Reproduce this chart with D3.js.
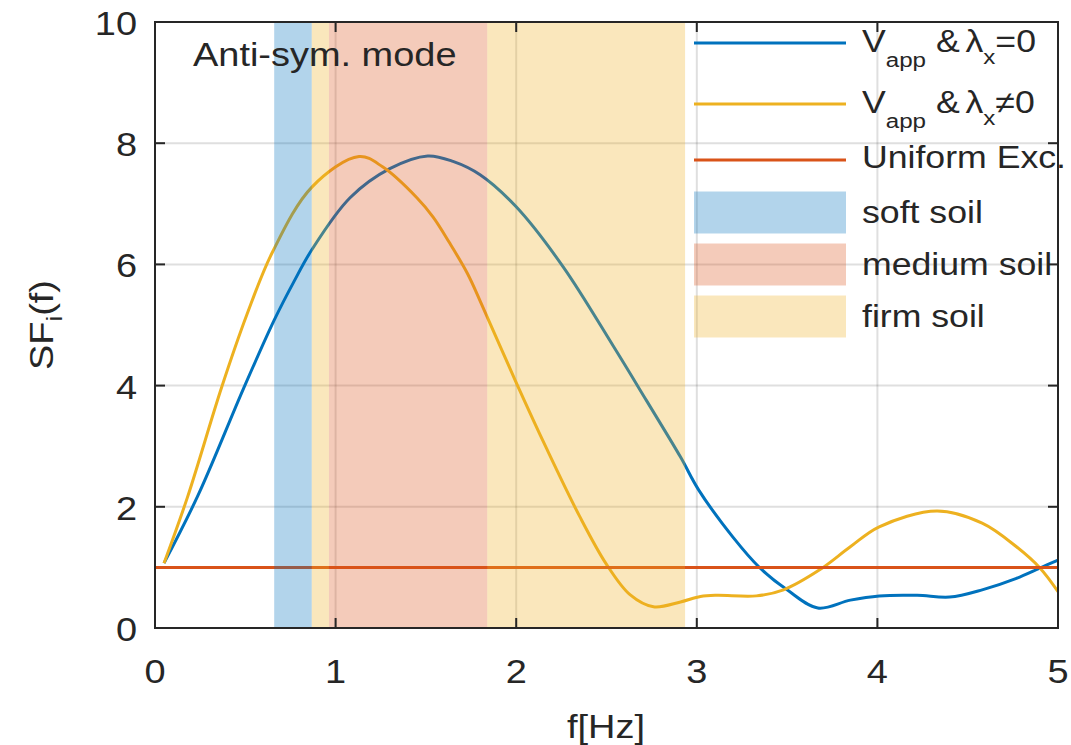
<!DOCTYPE html>
<html><head><meta charset="utf-8">
<script src="https://cdn.jsdelivr.net/npm/d3@7"></script>
<style>
body{margin:0;background:#fff;}
svg{display:block;}
text{font-family:"Liberation Sans",Arial,Helvetica,sans-serif;fill:#262626;}
</style>
</head><body>
<svg id="chart" width="1071" height="745"></svg>
<script>
// ---------- data ----------
const blueF = [0.05,0.24,0.49,0.66,0.77,0.87,1.08,1.30,1.51,1.65,1.80,2.00,2.26,2.54,2.72,2.91,3.01,3.20,3.35,3.50,3.67,3.85,4.01,4.22,4.40,4.58,4.77,4.90,5.00];
const blueV = [1.07,2.20,3.95,5.08,5.72,6.25,7.10,7.58,7.79,7.70,7.48,6.95,5.96,4.64,3.76,2.82,2.28,1.50,0.99,0.63,0.33,0.46,0.53,0.54,0.51,0.63,0.82,0.99,1.12];
const yellowF = [0.05,0.18,0.37,0.51,0.65,0.87,1.13,1.26,1.45,1.54,1.63,1.73,1.80,2.00,2.17,2.35,2.50,2.63,2.76,2.91,3.02,3.11,3.33,3.48,3.68,3.85,4.01,4.33,4.58,4.77,4.90,5.00];
const yellowV = [1.07,2.16,3.98,5.18,6.20,7.28,7.78,7.61,7.10,6.78,6.36,5.85,5.40,4.05,2.95,1.85,1.05,0.55,0.35,0.43,0.52,0.54,0.53,0.63,0.96,1.34,1.67,1.93,1.73,1.34,0.99,0.60];
const uniformF = [0, 5];
const uniformV = [1, 1];
const soilNames = ["soft soil", "medium soil", "firm soil"];
const soilColors = ["#0072BD", "#D95319", "#EDB120"];
const bandStart = [0.66, 0.963, 0.868, 1.84];
const bandEnd   = [0.868, 1.84, 0.963, 2.935];
const bandSoil  = [0, 1, 2, 2];
const xTicks = [0, 1, 2, 3, 4, 5];
const yTicks = [0, 2, 4, 6, 8, 10];
const titleText = "Anti-sym. mode";

// ---------- layout ----------
const svg = d3.select("#chart");
const L = 155, R = 1058, T = 22, B = 628;
const x = d3.scaleLinear().domain([0, 5]).range([L, R]);
const y = d3.scaleLinear().domain([0, 10]).range([B, T]);
const SX = 1.15; // horizontal text stretch
const axisColor = "#262626";

function txt(g, px, py, size, anchor) {
  return g.append("text")
    .attr("transform", `translate(${px},${py}) scale(${SX},1)`)
    .attr("font-size", size)
    .attr("text-anchor", anchor || "start");
}

svg.append("rect").attr("width", 1071).attr("height", 745).attr("fill", "#fff");

// grid
const grid = svg.append("g").attr("stroke", "rgba(38,38,38,0.15)").attr("stroke-width", 2);
xTicks.slice(1, -1).forEach(t => grid.append("line").attr("x1", x(t)).attr("x2", x(t)).attr("y1", T).attr("y2", B));
yTicks.slice(1, -1).forEach(t => grid.append("line").attr("x1", L).attr("x2", R).attr("y1", y(t)).attr("y2", y(t)));

// lines
const lineGen = d3.line().x(d => x(d[0])).y(d => y(d[1])).curve(d3.curveCatmullRom.alpha(0.5));
const series = [
  {f: blueF, v: blueV, c: "#0072BD"},
  {f: yellowF, v: yellowV, c: "#EDB120"},
  {f: uniformF, v: uniformV, c: "#D95319"}
];
series.forEach(s => {
  svg.append("path")
    .attr("d", lineGen(s.f.map((f, i) => [f, s.v[i]])))
    .attr("fill", "none").attr("stroke", s.c).attr("stroke-width", 3);
});

// bands (translucent, on top of lines)
bandStart.forEach((b, i) => {
  svg.append("rect")
    .attr("x", x(b)).attr("width", x(bandEnd[i]) - x(b))
    .attr("y", T).attr("height", B - T)
    .attr("fill", soilColors[bandSoil[i]]).attr("fill-opacity", 0.3);
});

// title text
txt(svg, 193, 66, 33).text(titleText).attr("fill", "#111");

// legend
const lg = svg.append("g");
const lx0 = 694, lx1 = 846, tx = 862, lfs = 31, sfs = 21;
const lineRows = [
  {cy: 43, c: "#0072BD", sym: "=0"},
  {cy: 104, c: "#EDB120", sym: "\u22600"}
];
lineRows.forEach(r => {
  lg.append("line").attr("x1", lx0).attr("x2", lx1).attr("y1", r.cy).attr("y2", r.cy)
    .attr("stroke", r.c).attr("stroke-width", 3);
  const t = txt(lg, tx, r.cy + 9, lfs).attr("fill", "#111");
  t.append("tspan").text("V");
  t.append("tspan").attr("font-size", sfs).attr("dy", 15).text("app");
  t.append("tspan").attr("dy", -15).text(" &");
  t.append("tspan").attr("dx", 5).text("\u03bb");
  t.append("tspan").attr("font-size", sfs).attr("dy", 12).text("x");
  t.append("tspan").attr("dy", -12).text(r.sym);
});
lg.append("line").attr("x1", lx0).attr("x2", lx1).attr("y1", 160).attr("y2", 160)
  .attr("stroke", "#D95319").attr("stroke-width", 3);
txt(lg, tx, 168, lfs).attr("fill", "#111").text("Uniform Exc.");
const swatchCy = [212.5, 264.5, 316.5];
soilNames.forEach((n, i) => {
  lg.append("rect").attr("x", lx0).attr("width", lx1 - lx0)
    .attr("y", swatchCy[i] - 21).attr("height", 42)
    .attr("fill", soilColors[i]).attr("fill-opacity", 0.3);
  txt(lg, tx, swatchCy[i] + 10, lfs).attr("fill", "#111").text(n);
});

// axes box and ticks
const ax = svg.append("g").attr("stroke", axisColor).attr("stroke-width", 2);
ax.append("rect").attr("x", L).attr("y", T).attr("width", R - L).attr("height", B - T).attr("fill", "none");
const tl = 10;
xTicks.forEach(t => {
  ax.append("line").attr("x1", x(t)).attr("x2", x(t)).attr("y1", B).attr("y2", B - tl);
  ax.append("line").attr("x1", x(t)).attr("x2", x(t)).attr("y1", T).attr("y2", T + tl);
});
yTicks.forEach(t => {
  ax.append("line").attr("x1", L).attr("x2", L + tl).attr("y1", y(t)).attr("y2", y(t));
  ax.append("line").attr("x1", R).attr("x2", R - tl).attr("y1", y(t)).attr("y2", y(t));
});

// tick labels
xTicks.forEach(t => txt(svg, x(t), 683, 33, "middle").text(d3.format("d")(t)));
yTicks.forEach(t => txt(svg, 137, y(t) + 13, 33, "end").text(d3.format("d")(t)));

// axis labels
txt(svg, 606, 738, 33, "middle").text("f[Hz]");
const yl = svg.append("text")
  .attr("transform", `translate(53,325) rotate(-90) scale(${SX},1)`)
  .attr("font-size", 33).attr("text-anchor", "middle");
yl.append("tspan").text("SF");
yl.append("tspan").attr("font-size", 22).attr("dy", 9).text("i");
yl.append("tspan").attr("dy", -9).text("(f)");
</script>
</body></html>
